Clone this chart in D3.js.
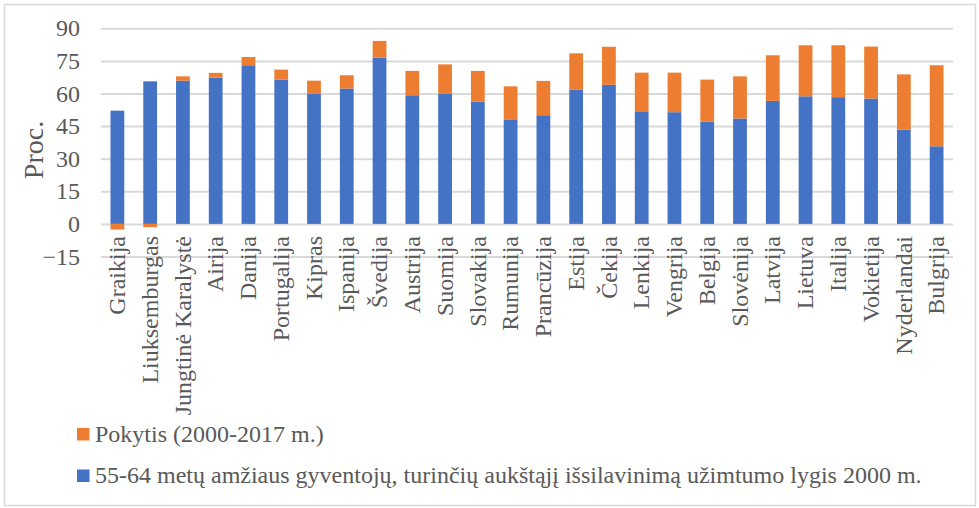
<!DOCTYPE html>
<html>
<head>
<meta charset="utf-8">
<script src="https://cdn.jsdelivr.net/npm/d3@7"></script>
<style>
  html, body { margin: 0; padding: 0; background: #ffffff; }
  svg { display: block; }
  svg text { font-family: "Liberation Serif", "Times New Roman", serif; }
</style>
</head>
<body>
<svg id="chart" width="979" height="508"></svg>
<script>
// Countries, ordered by the size of the change
const categories = [
  "Graikija", "Liuksemburgas", "Jungtinė Karalystė", "Airija", "Danija",
  "Portugalija", "Kipras", "Ispanija", "Švedija", "Austrija", "Suomija",
  "Slovakija", "Rumunija", "Prancūzija", "Estija", "Čekija", "Lenkija",
  "Vengrija", "Belgija", "Slovėnija", "Latvija", "Lietuva", "Italija",
  "Vokietija", "Nyderlandai", "Bulgrija"
];
// Employment rate in 2000, %
const rate2000 = [
  52.1, 65.6, 65.9, 67.3, 73.0, 66.4, 60.0, 62.3, 76.5, 59.2, 60.0,
  56.3, 48.1, 50.0, 61.7, 64.0, 51.8, 51.4, 47.1, 48.5, 56.6, 58.7,
  58.3, 57.7, 43.4, 35.7
];
// Change 2000-2017, percentage points
const change = [
  -2.6, -1.5, 2.0, 2.2, 3.8, 4.6, 5.9, 6.1, 7.7, 11.2, 13.4,
  14.1, 15.2, 15.8, 16.8, 17.5, 17.8, 18.2, 19.3, 19.4, 21.0, 23.5,
  23.9, 23.9, 25.4, 37.3
];
const yTicks = [-15, 0, 15, 30, 45, 60, 75, 90];
const seriesNames = [
  "Pokytis (2000-2017 m.)",
  "55-64 metų amžiaus gyventojų, turinčių aukštąjį išsilavinimą užimtumo lygis 2000 m."
];

const colBlue = "#4472c4";
const colOrange = "#ed7d31";
const textCol = "#595959";

const svg = d3.select("#chart");

// outer frame
svg.append("rect")
  .attr("x", 4.5).attr("y", 4.5)
  .attr("width", 971).attr("height", 501)
  .attr("fill", "none").attr("stroke", "#d9d9d9").attr("stroke-width", 1.5);

const plot = { left: 101, right: 953, top: 28.3, bottom: 256.5 };

const x = d3.scaleBand()
  .domain(categories)
  .range([plot.left, plot.right])
  .paddingInner(0.58)
  .paddingOuter(0.29);

const y = d3.scaleLinear()
  .domain([-15, 90])
  .range([plot.bottom, plot.top]);

// gridlines + tick labels
const yAxis = d3.axisLeft(y)
  .tickValues(yTicks)
  .tickSize(-(plot.right - plot.left))
  .tickPadding(21)
  .tickFormat(d3.format("d"));

const gy = svg.append("g")
  .attr("transform", `translate(${plot.left},0)`)
  .call(yAxis);
gy.attr("font-family", null).attr("font-size", null);
gy.select(".domain").remove();
gy.selectAll(".tick line")
  .attr("stroke", "#d9d9d9").attr("stroke-width", 2);
gy.selectAll(".tick text")
  .attr("fill", textCol)
  .attr("font-size", 24);

// axis title
svg.append("text")
  .attr("transform", "translate(43,150) rotate(-90)")
  .attr("text-anchor", "middle")
  .attr("font-size", 28)
  .attr("fill", textCol)
  .text("Proc.");

const rows = categories.map((c, i) => ({ c, base: rate2000[i], ch: change[i] }));

// 2000 level
svg.append("g").selectAll("rect")
  .data(rows).join("rect")
  .attr("x", d => x(d.c))
  .attr("width", x.bandwidth())
  .attr("y", d => y(d.base))
  .attr("height", d => y(0) - y(d.base))
  .attr("fill", colBlue);

// change, stacked on top (negative values go below zero)
svg.append("g").selectAll("rect")
  .data(rows).join("rect")
  .attr("x", d => x(d.c))
  .attr("width", x.bandwidth())
  .attr("y", d => d.ch >= 0 ? y(d.base + d.ch) : y(0))
  .attr("height", d => d.ch >= 0 ? y(d.base) - y(d.base + d.ch) : y(d.ch) - y(0))
  .attr("fill", colOrange);

// category labels
svg.append("g").selectAll("text")
  .data(categories).join("text")
  .attr("transform", d => `translate(${x(d) + x.bandwidth() / 2},236) rotate(-90)`)
  .attr("dy", "0.32em")
  .attr("text-anchor", "end")
  .attr("font-size", 24)
  .attr("fill", textCol)
  .text(d => d);

// legend
const legend = svg.append("g");
const legendItems = [
  { name: seriesNames[0], color: colOrange, y: 441.5 },
  { name: seriesNames[1], color: colBlue, y: 483 }
];
legendItems.forEach(it => {
  legend.append("rect")
    .attr("x", 77).attr("y", it.y - 13.5)
    .attr("width", 12.5).attr("height", 12.5)
    .attr("fill", it.color);
  legend.append("text")
    .attr("x", 95).attr("y", it.y)
    .attr("font-size", 24)
    .attr("fill", textCol)
    .text(it.name);
});
</script>
</body>
</html>
